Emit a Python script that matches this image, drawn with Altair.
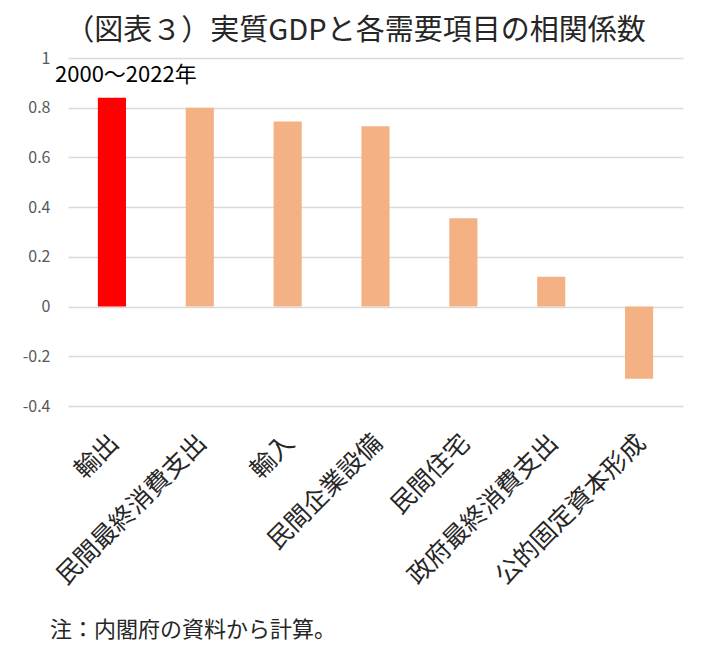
import altair as alt
import pandas as pd

items = ["輸出", "民間最終消費支出", "輸入", "民間企業設備", "民間住宅", "政府最終消費支出", "公的固定資本形成"]
corr = [0.84, 0.80, 0.745, 0.725, 0.355, 0.12, -0.29]
y_ticks = [-0.4, -0.2, 0, 0.2, 0.4, 0.6, 0.8, 1]

title_text = "（図表３）実質GDPと各需要項目の相関係数"
period_text = "2000～2022年"
note_text = "注：内閣府の資料から計算。"

df = pd.DataFrame({"item": items, "corr": corr})
font = "Noto Sans CJK JP"

bars = (
    alt.Chart(df)
    .mark_bar()
    .encode(
        x=alt.X(
            "item:N",
            sort=None,
            title=None,
            scale=alt.Scale(paddingInner=0.68, paddingOuter=0.34),
            axis=alt.Axis(
                labelAngle=-45,
                labelFontSize=25,
                labelColor="#262626",
                labelFont=font,
                labelPadding=24,
                labelOffset=-6,
                labelLimit=300,
                domain=False,
                ticks=False,
                grid=False,
            ),
        ),
        y=alt.Y(
            "corr:Q",
            title=None,
            scale=alt.Scale(domain=[-0.4, 1], nice=False, zero=False),
            axis=alt.Axis(
                values=y_ticks,
                labelExpr="toString(round(datum.value * 10) / 10)",
                labelFontSize=16,
                labelColor="#595959",
                labelFont=font,
                labelPadding=18,
                domain=False,
                ticks=False,
                gridColor="#d9d9d9",
                gridWidth=1.5,
            ),
        ),
        color=alt.condition(
            alt.datum.item == "輸出", alt.value("#ff0000"), alt.value("#f4b183")
        ),
    )
)

period = (
    alt.Chart(pd.DataFrame({"t": [period_text]}))
    .mark_text(align="left", baseline="middle", font=font, fontSize=22, color="#000000")
    .encode(x=alt.value(-13), y=alt.value(17), text="t:N")
)

note = (
    alt.Chart(pd.DataFrame({"t": [note_text]}))
    .mark_text(align="left", baseline="middle", font=font, fontSize=22, color="#262626")
    .encode(x=alt.value(-18), y=alt.value(572), text="t:N")
)

chart = (
    alt.layer(bars, period, note)
    .properties(
        width=615,
        height=348,
        autosize=alt.AutoSizeParams(type="none"),
        padding={"left": 60, "top": 50, "right": 32, "bottom": 238},
        title=alt.TitleParams(
            title_text,
            font=font,
            fontSize=29,
            fontWeight="normal",
            color="#262626",
            anchor="middle",
            dx=-20,
            offset=4,
        ),
    )
    .configure_view(stroke=None)
)

chart.save("out.html", embed_options={"renderer": "svg", "actions": False})
